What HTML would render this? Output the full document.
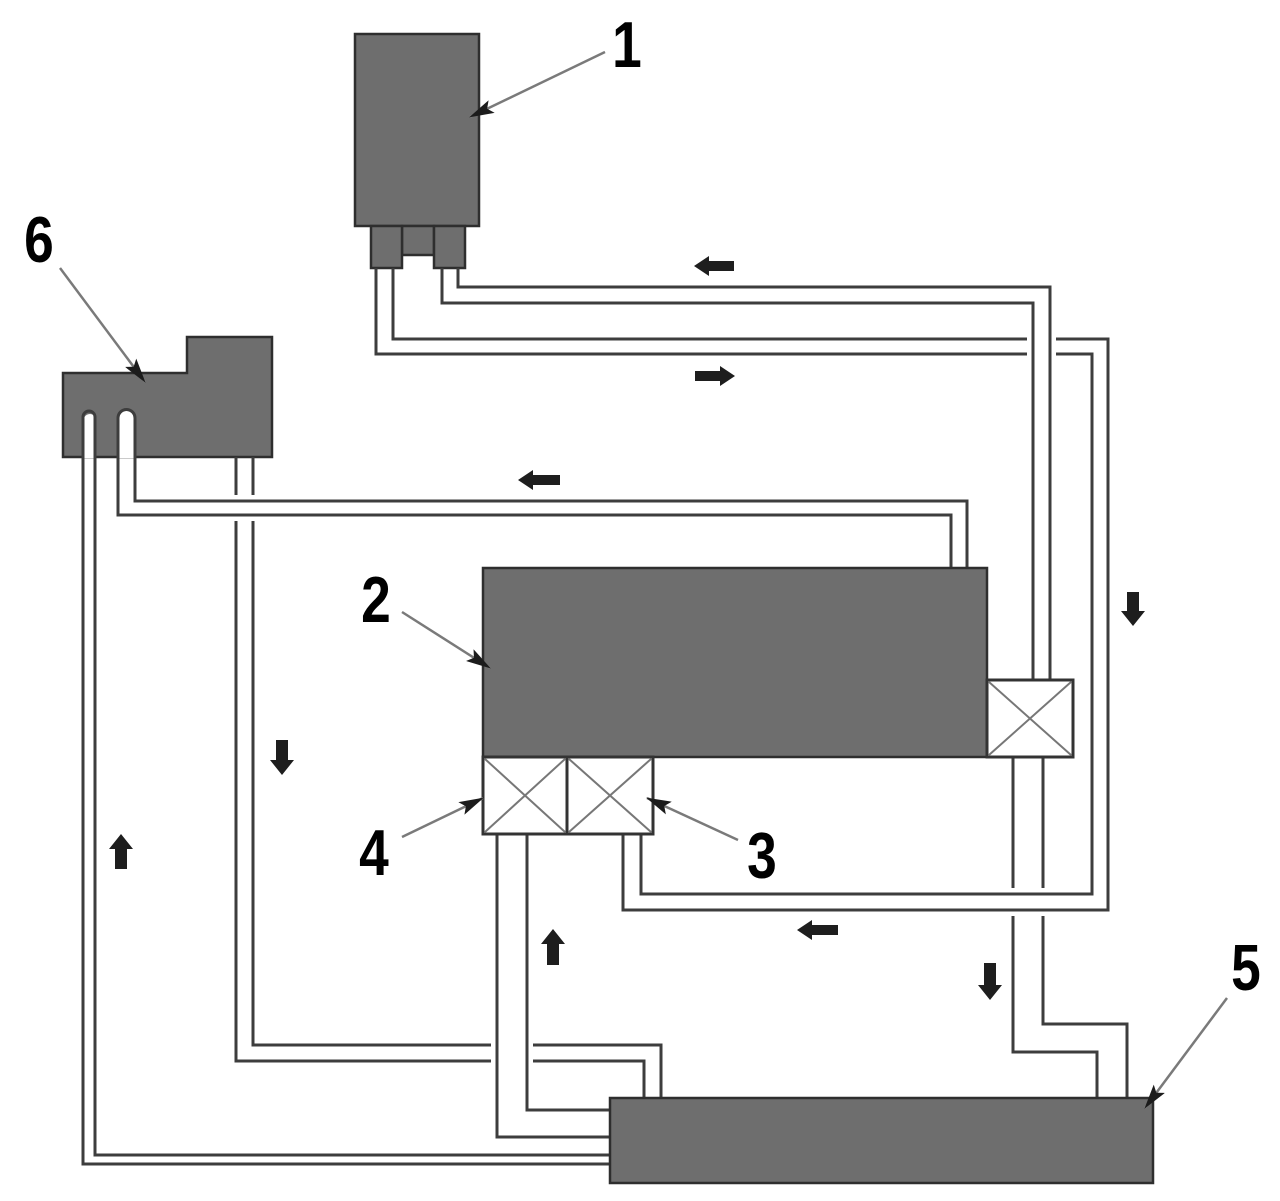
<!DOCTYPE html>
<html><head><meta charset="utf-8"><style>
html,body{margin:0;padding:0;background:#fff;}
svg{display:block;}
.p{fill:none;stroke:#3d3d3d;stroke-width:3;stroke-linejoin:miter;}
.box{fill:#6e6e6e;stroke:#2e2e2e;stroke-width:2.5;}
.v{fill:#fff;stroke:#333;stroke-width:3;}
.x{stroke:#777;stroke-width:2;}
.ld{stroke:#7a7a7a;stroke-width:2.5;fill:none;}
.fa{fill:#1e1e1e;}
.lbl{font-family:"Liberation Sans",sans-serif;font-weight:bold;font-size:65px;fill:#000;}
</style></head><body>
<svg width="1280" height="1201" viewBox="0 0 1280 1201" xmlns="http://www.w3.org/2000/svg">
<defs>
<marker id="ah" markerUnits="userSpaceOnUse" markerWidth="26" markerHeight="14" refX="24" refY="7" orient="auto">
<path d="M0,0 L25,7 L0,14 L5,7 Z" fill="#1c1c1c"/>
</marker>
</defs>

<!-- Box 1 -->
<rect class="box" x="355" y="34" width="124" height="192"/>
<rect class="box" x="402" y="226" width="32" height="29"/>
<rect class="box" x="371" y="226" width="31" height="42"/>
<rect class="box" x="434" y="226" width="31" height="42"/>

<!-- Pipe from box1 right stub to right valve -->
<path class="p" d="M458,268 L458,287 L1050,287 L1050,680"/>
<path class="p" d="M442,268 L442,303 L1033,303 L1033,680"/>

<!-- Pipe from box1 left stub around to valve 3 (with gap at 1027-1056) -->
<path class="p" d="M393,268 L393,339 L1027,339 M1056,339 L1108,339 L1108,910 L623,910 L623,834"/>
<path class="p" d="M376,268 L376,354 L1027,354 M1056,354 L1092,354 L1092,894 L641,894 L641,834"/>

<!-- Box 6 -->
<path class="box" d="M63,373 L187,373 L187,337 L272,337 L272,457 L63,457 Z"/>
<!-- slots white -->
<path d="M84.5,458 L84.5,417 A6.5,6.5 0 0 1 95.5,417 L95.5,458 Z" fill="#fff"/>
<path d="M119.5,458 L119.5,418 A7,7 0 0 1 133.5,418 L133.5,458 Z" fill="#fff"/>

<!-- Pipe from slot1 to box 5 -->
<path class="p" d="M610,1164 L83,1164 L83,417 A6,6 0 0 1 95,417 L95,1155 L610,1155"/>
<!-- Pipe from slot2 to box 2 top -->
<path class="p" d="M951,568 L951,515 L118,515 L118,418 A8.5,8.5 0 0 1 135,418 L135,501 L967,501 L967,568"/>

<!-- Pipe from box6 bottom to box5 (gaps where crossing) -->
<path class="p" d="M236,457 L236,495 M236,521 L236,1061 L491,1061 M533,1061 L644,1061 L644,1098"/>
<path class="p" d="M253,457 L253,495 M253,521 L253,1045 L491,1045 M533,1045 L661,1045 L661,1098"/>

<!-- Valve 4 pipe -->
<path class="p" d="M497,834 L497,1137 L610,1137"/>
<path class="p" d="M527,834 L527,1110 L610,1110"/>

<!-- Right valve pipe to box 5 (gap at 888-915) -->
<path class="p" d="M1013,757 L1013,888 M1013,916 L1013,1052 L1097,1052 L1097,1098"/>
<path class="p" d="M1043,757 L1043,888 M1043,916 L1043,1024 L1127,1024 L1127,1098"/>

<!-- Box 2 -->
<rect class="box" x="483" y="568" width="504" height="189"/>
<!-- Valves -->
<rect class="v" x="987" y="680" width="86" height="77"/>
<line class="x" x1="989" y1="682" x2="1071" y2="755"/><line class="x" x1="1071" y1="682" x2="989" y2="755"/>
<rect class="v" x="483" y="757" width="84" height="77"/>
<line class="x" x1="485" y1="759" x2="565" y2="832"/><line class="x" x1="565" y1="759" x2="485" y2="832"/>
<rect class="v" x="567" y="757" width="86" height="77"/>
<line class="x" x1="569" y1="759" x2="651" y2="832"/><line class="x" x1="651" y1="759" x2="569" y2="832"/>

<!-- Box 5 -->
<rect class="box" x="610" y="1098" width="543" height="85"/>

<!-- Flow arrows -->
<!-- left arrows -->
<path class="fa" d="M694,266 L709,256 L709,261 L734,261 L734,271 L709,271 L709,276 Z"/>
<path class="fa" d="M518,480 L533,470 L533,475 L560,475 L560,485 L533,485 L533,490 Z"/>
<path class="fa" d="M797,930 L812,920 L812,925 L838,925 L838,935 L812,935 L812,940 Z"/>
<!-- right arrow -->
<path class="fa" d="M735,376 L720,366 L720,371 L695,371 L695,381 L720,381 L720,386 Z"/>
<!-- down arrows -->
<path class="fa" d="M1133,626 L1121,611 L1127,611 L1127,592 L1139,592 L1139,611 L1145,611 Z"/>
<path class="fa" d="M282,775 L270,760 L276,760 L276,740 L288,740 L288,760 L294,760 Z"/>
<path class="fa" d="M990,1000 L978,985 L984,985 L984,963 L996,963 L996,985 L1002,985 Z"/>
<!-- up arrows -->
<path class="fa" d="M121,834 L109,849 L115,849 L115,869 L127,869 L127,849 L133,849 Z"/>
<path class="fa" d="M553,929 L541,944 L547,944 L547,965 L559,965 L559,944 L565,944 Z"/>

<!-- Leaders -->
<line class="ld" x1="605" y1="52" x2="470" y2="117" marker-end="url(#ah)"/>
<line class="ld" x1="60" y1="268" x2="145" y2="382" marker-end="url(#ah)"/>
<line class="ld" x1="402" y1="612" x2="490" y2="668" marker-end="url(#ah)"/>
<line class="ld" x1="402" y1="837" x2="483" y2="798" marker-end="url(#ah)"/>
<line class="ld" x1="738" y1="840" x2="647" y2="798" marker-end="url(#ah)"/>
<line class="ld" x1="1227" y1="998" x2="1145" y2="1108" marker-end="url(#ah)"/>

<!-- Labels -->
<text class="lbl" text-anchor="middle" transform="translate(627,67) scale(0.82,1)">1</text>
<text class="lbl" text-anchor="middle" transform="translate(39,262) scale(0.82,1)">6</text>
<text class="lbl" text-anchor="middle" transform="translate(376,622) scale(0.82,1)">2</text>
<text class="lbl" text-anchor="middle" transform="translate(374,875) scale(0.82,1)">4</text>
<text class="lbl" text-anchor="middle" transform="translate(762,878) scale(0.82,1)">3</text>
<text class="lbl" text-anchor="middle" transform="translate(1246,990) scale(0.82,1)">5</text>
</svg>
</body></html>
